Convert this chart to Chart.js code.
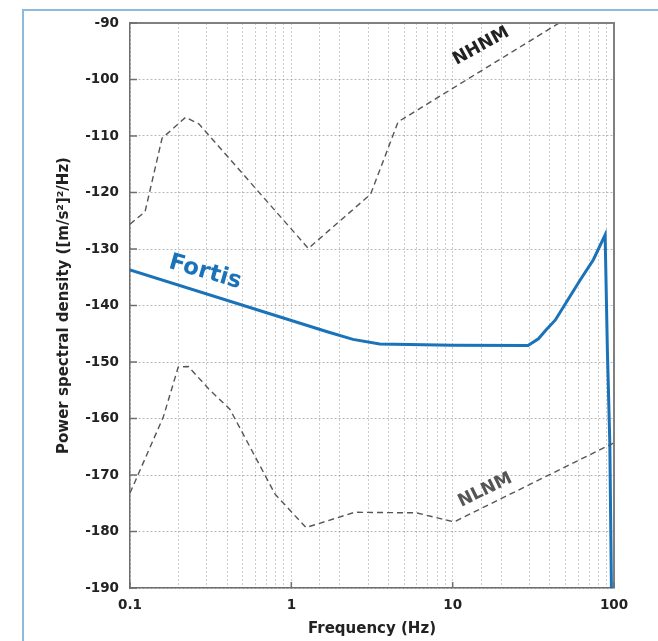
<!DOCTYPE html>
<html>
<head>
<meta charset="utf-8">
<script src="https://cdn.jsdelivr.net/npm/chart.js@4.4.1/dist/chart.umd.min.js"></script>
<style>
    html, body { margin: 0; padding: 0; background: #fff; overflow: hidden; }
    #frame { position: absolute; left: 22px; top: 9px; width: 700px; height: 700px;
             border-left: 2px solid #8dbbe0; border-top: 2px solid #8dbbe0; }
    #wrap { position: absolute; left: 0; top: 0; width: 658px; height: 641px; }
</style>
</head>
<body>
<div id="frame"></div>
<div id="wrap"><canvas id="psdChart" width="658" height="641"></canvas></div>
<script>
// 주파수(Hz) / PSD(dB) 값 - 그림에서 읽은 값
const nhnmFreq = [0.1, 0.124, 0.158, 0.221, 0.268, 1.275, 3.1, 4.59, 45.7];
const nhnmPsd  = [-125.6, -123.4, -110.4, -106.7, -107.9, -129.9, -120.3, -107.5, -90];

const nlnmFreq = [0.1, 0.161, 0.199, 0.23, 0.306, 0.417, 0.793, 1.233, 2.47, 5.96, 10.2, 100];
const nlnmPsd  = [-173.2, -159.7, -150.9, -150.8, -154.7, -158.4, -173.4, -179.3, -176.6, -176.7, -178.3, -164.3];

const fortisFreq = [0.1, 1.69, 2.41, 3.53, 10, 29.3, 34, 38, 43.2, 51, 61.7, 74.5, 88.1, 91, 94.2, 96.4, 97];
const fortisPsd  = [-133.7, -144.7, -146.0, -146.8, -147.05, -147.1, -145.9, -144.3, -142.6, -139.3, -135.5, -131.9, -127.5, -148, -164.4, -190, -195];

const xTickLabels = ["0.1", "1", "10", "100"];

const FONT = "'DejaVu Sans', sans-serif";

// 곡선 옆 텍스트 라벨 (데이터 좌표 기준)
const curveLabels = [
    { text: "NHNM",   f: 15.0,  v: -94.1,  angle: -29, size: 17.5, color: "#222" },
    { text: "NLNM",   f: 15.9,  v: -172.7, angle: -26, size: 17.5, color: "#555" },
    { text: "Fortis", f: 0.292, v: -134.1, angle: 16,  size: 23,   color: "#1a72b8" }
];

function toPoints(xs, ys) {
    return xs.map((x, i) => ({ x: x, y: ys[i] }));
}

const framePlugin = {
    id: "frame",
    afterDatasetsDraw(chart) {
        const { ctx, chartArea: a, scales } = chart;
        ctx.save();
        // 위, 오른쪽 테두리
        ctx.strokeStyle = "#808080";
        ctx.lineWidth = 2;
        ctx.beginPath();
        ctx.moveTo(a.left, a.top);
        ctx.lineTo(a.right, a.top);
        ctx.lineTo(a.right, a.bottom);
        ctx.stroke();

        // 안쪽 눈금
        ctx.strokeStyle = "#6e6e6e";
        ctx.lineWidth = 1.5;
        scales.y.ticks.forEach(t => {
            const py = scales.y.getPixelForValue(t.value);
            ctx.beginPath();
            ctx.moveTo(a.left, py);
            ctx.lineTo(a.left + 7, py);
            ctx.stroke();
        });
        xTickLabels.forEach(l => {
            const px = scales.x.getPixelForValue(Number(l));
            ctx.beginPath();
            ctx.moveTo(px, a.bottom);
            ctx.lineTo(px, a.bottom - 6);
            ctx.stroke();
        });

        // 곡선 라벨
        curveLabels.forEach(lb => {
            ctx.save();
            ctx.translate(scales.x.getPixelForValue(lb.f), scales.y.getPixelForValue(lb.v));
            ctx.rotate(lb.angle * Math.PI / 180);
            ctx.font = `bold ${lb.size}px ${FONT}`;
            ctx.fillStyle = lb.color;
            ctx.textAlign = "center";
            ctx.textBaseline = "middle";
            ctx.fillText(lb.text, 0, 0);
            ctx.restore();
        });
        ctx.restore();
    }
};

const ctx = document.getElementById("psdChart").getContext("2d");

new Chart(ctx, {
    type: "line",
    data: {
        datasets: [
            {
                label: "NHNM",
                data: toPoints(nhnmFreq, nhnmPsd),
                borderColor: "#555",
                borderWidth: 1.4,
                borderDash: [6, 4],
                pointRadius: 0,
                fill: false
            },
            {
                label: "NLNM",
                data: toPoints(nlnmFreq, nlnmPsd),
                borderColor: "#555",
                borderWidth: 1.4,
                borderDash: [6, 4],
                pointRadius: 0,
                fill: false
            },
            {
                label: "Fortis",
                data: toPoints(fortisFreq, fortisPsd),
                borderColor: "#1a72b8",
                borderWidth: 3,
                pointRadius: 0,
                fill: false
            }
        ]
    },
    options: {
        responsive: false,
        animation: false,
        layout: { padding: { top: 23, right: 44, left: 0, bottom: 0 } },
        plugins: {
            legend: { display: false },
            tooltip: { enabled: false }
        },
        scales: {
            x: {
                type: "logarithmic",
                min: 0.1,
                max: 100,
                afterFit(scale) { scale.height = 53; },
                grid: { color: "rgba(0,0,0,0.2)", lineWidth: 1, drawTicks: false },
                border: { display: true, color: "#6e6e6e", width: 1.5, dash: [2, 2] },
                ticks: {
                    autoSkip: false,
                    maxRotation: 0,
                    padding: 9,
                    color: "#222",
                    font: { family: FONT, size: 13.5, weight: "bold" },
                    callback: (v) => {
                        const l = Math.log10(v);
                        return Math.abs(l - Math.round(l)) < 1e-6 ? xTickLabels[Math.round(l) + 1] : "";
                    }
                },
                title: {
                    display: true,
                    text: "Frequency (Hz)",
                    color: "#222",
                    font: { family: FONT, size: 15, weight: "bold", lineHeight: 1.2 },
                    padding: { top: 0, bottom: 3 }
                }
            },
            y: {
                type: "linear",
                min: -190,
                max: -90,
                afterFit(scale) { scale.width = 130; },
                grid: { color: "rgba(0,0,0,0.28)", lineWidth: 1, drawTicks: false },
                border: { display: true, color: "#6e6e6e", width: 1.5, dash: [2, 2] },
                ticks: {
                    stepSize: 10,
                    padding: 11,
                    color: "#222",
                    font: { family: FONT, size: 13.5, weight: "bold" }
                },
                title: {
                    display: true,
                    text: "Power spectral density ([m/s²]²/Hz)",
                    color: "#222",
                    font: { family: FONT, size: 15, weight: "bold", lineHeight: 1.2 },
                    padding: { top: 55, bottom: 0 }
                }
            }
        }
    },
    plugins: [framePlugin]
});
</script>
</body>
</html>
